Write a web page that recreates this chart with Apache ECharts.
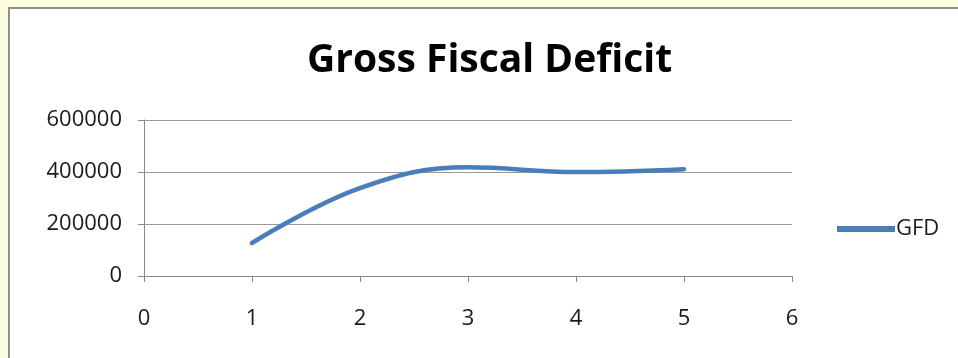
<!DOCTYPE html>
<html>
<head>
<meta charset="utf-8">
<script src="https://cdn.jsdelivr.net/npm/echarts@6/dist/echarts.min.js"></script>
<style>
  html, body { margin: 0; padding: 0; }
  body { width: 958px; height: 358px; position: relative; overflow: hidden; background: #fffde0; }
  #frame { position: absolute; left: 8px; top: 7px; width: 950px; height: 351px;
           background: #fff; border-left: 2px solid #8f8f8f; border-top: 2px solid #8f8f8f; box-sizing: border-box; }
  #main { position: absolute; left: 0; top: 0; width: 958px; height: 358px; }
</style>
</head>
<body>
<div id="frame"></div>
<div id="main"></div>
<script>
  const years = [1, 2, 3, 4, 5];
  const gfd = [127000, 338000, 418000, 400000, 411000];
  const yTicks = [0, 200000, 400000, 600000];

  var myChart = echarts.init(document.getElementById('main'));
  var axisFont = { fontFamily: 'Open Sans', fontSize: 22, color: '#1a1a1a' };

  var option = {
    animation: false,
    title: {
      text: 'Gross Fiscal Deficit',
      left: 302,
      top: 36,
      textStyle: { fontFamily: 'Open Sans', fontWeight: 'bold', fontSize: 39, color: '#000' }
    },
    legend: {
      data: ['GFD'],
      orient: 'vertical',
      left: 832,
      top: 213,
      itemWidth: 58,
      itemHeight: 6,
      itemGap: 4,
      icon: 'rect',
      textStyle: { fontFamily: 'Open Sans', fontSize: 22, color: '#1a1a1a', padding: [0, 0, 0, -4] }
    },
    grid: { left: 144, right: 166, top: 120, bottom: 82, containLabel: false },
    xAxis: {
      type: 'value',
      min: 0,
      max: 6,
      interval: 1,
      axisLine: { show: true, lineStyle: { color: '#888', width: 1 } },
      axisTick: { show: true, length: 6, lineStyle: { color: '#888' } },
      splitLine: { show: false },
      axisLabel: Object.assign({ margin: 32 }, axisFont)
    },
    yAxis: {
      type: 'value',
      min: yTicks[0],
      max: yTicks[yTicks.length - 1],
      interval: yTicks[1] - yTicks[0],
      axisLine: { show: true, lineStyle: { color: '#888', width: 1 } },
      axisTick: { show: true, length: 6, lineStyle: { color: '#888' } },
      splitLine: { show: true, lineStyle: { color: '#999', width: 1 } },
      axisLabel: Object.assign({ margin: 22, formatter: (v) => String(v) }, axisFont)
    },
    series: [
      {
        name: 'GFD',
        type: 'line',
        smooth: 0.4,
        showSymbol: false,
        symbol: 'none',
        data: years.map((x, i) => [x, gfd[i]]),
        lineStyle: { color: '#4a7ebb', width: 4.5, cap: 'round' },
        itemStyle: { color: '#4a7ebb' }
      }
    ]
  };

  option && myChart.setOption(option);
</script>
</body>
</html>
